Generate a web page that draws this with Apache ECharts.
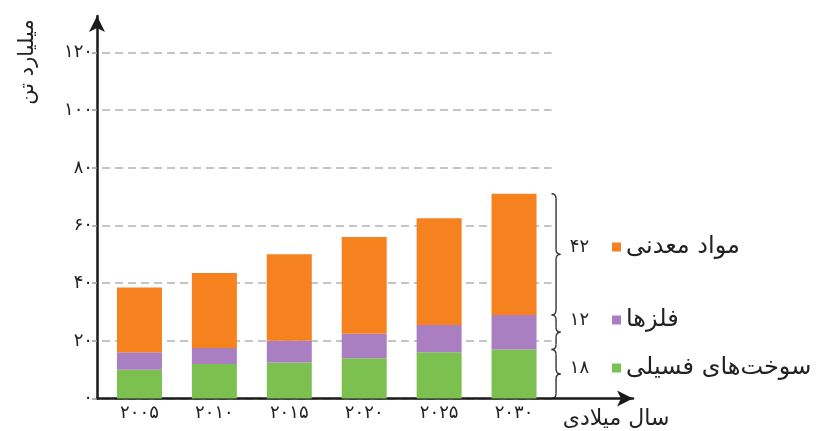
<!DOCTYPE html>
<html>
<head>
<meta charset="utf-8">
<script src="https://cdn.jsdelivr.net/npm/echarts@6/dist/echarts.min.js"></script>
<style>
html,body{margin:0;padding:0;background:#fff;}
#chart{width:827px;height:431px;}
</style>
</head>
<body>
<div id="chart"></div>
<script>
// ---- data ----
const categories = ['۲۰۰۵', '۲۰۱۰', '۲۰۱۵', '۲۰۲۰', '۲۰۲۵', '۲۰۳۰'];
const fossilFuels = [10, 12, 12.5, 14, 16, 17];
const metals = [6, 5.5, 7.5, 8.5, 9.5, 12];
const minerals = [22.5, 26, 30, 33.5, 37, 42];
const seriesNames = ['سوخت‌های فسیلی', 'فلزها', 'مواد معدنی'];
const braceLabels = ['۱۸', '۱۲', '۴۲'];
const yTickLabels = {0: '۰', 20: '۲۰', 40: '۴۰', 60: '۶۰', 80: '۸۰', 100: '۱۰۰', 120: '۱۲۰'};
const yAxisTitle = 'میلیارد تن';
const xAxisTitle = 'سال میلادی';

const colors = ['#7cc150', '#a97fc2', '#f5821f'];
const FONT = 'DejaVu Sans';

const chart = echarts.init(document.getElementById('chart'));

const option = {
  backgroundColor: '#ffffff',
  animation: false,
  grid: [
    {left: 102, right: 275.5, top: 52.5, bottom: 32.5},
    {left: 97, right: 194, top: 16, bottom: 32.5}
  ],
  xAxis: [
    {
      type: 'category', gridIndex: 0, data: categories,
      axisLine: {show: false}, axisTick: {show: false},
      axisLabel: {color: '#222', fontFamily: FONT, fontSize: 18, margin: 6}
    },
    {
      type: 'value', gridIndex: 1, min: 0, max: 1,
      axisLine: {show: true, onZero: false, lineStyle: {color: '#1a1a1a', width: 2.5},
        symbol: ['none', 'arrow'], symbolSize: [12, 16]},
      axisTick: {show: false}, axisLabel: {show: false}, splitLine: {show: false}
    }
  ],
  yAxis: [
    {
      type: 'value', gridIndex: 0, min: 0, max: 120, interval: 20, offset: 5,
      axisLine: {show: false},
      axisTick: {show: true, length: 5, lineStyle: {color: '#999', width: 1.5}},
      axisLabel: {color: '#222', fontFamily: FONT, fontSize: 18, margin: 4,
        formatter: v => yTickLabels[v] !== undefined ? yTickLabels[v] : ''},
      splitLine: {show: true, lineStyle: {color: '#b3b3b3', width: 1.5, type: [8, 5]}}
    },
    {
      type: 'value', gridIndex: 1, min: 0, max: 1,
      axisLine: {show: true, onZero: false, lineStyle: {color: '#1a1a1a', width: 2.5},
        symbol: ['none', 'arrow'], symbolSize: [12, 16]},
      axisTick: {show: false}, axisLabel: {show: false}, splitLine: {show: false}
    }
  ],
  legend: [
    {data: [seriesNames[2]], left: 612, top: 234},
    {data: [seriesNames[1]], left: 612, top: 307},
    {data: [seriesNames[0]], left: 612, top: 355}
  ].map(l => Object.assign(l, {
    orient: 'vertical', padding: 0, icon: 'rect', itemWidth: 9, itemHeight: 9,
    selectedMode: false,
    textStyle: {color: '#222', fontFamily: FONT, fontSize: 24, lineHeight: 26}
  })),
  series: [fossilFuels, metals, minerals].map((d, i) => ({
    name: seriesNames[i], type: 'bar', stack: 'total', data: d,
    xAxisIndex: 0, yAxisIndex: 0, barWidth: 45,
    itemStyle: {color: colors[i]}
  }))
};
chart.setOption(option);

// braces for last category, computed from the data through the axis scale
const last = categories.length - 1;
const cum = [0, fossilFuels[last], fossilFuels[last] + metals[last],
  fossilFuels[last] + metals[last] + minerals[last]];
const xEnd = chart.convertToPixel({xAxisIndex: 0}, categories[last]) + 22.5;
const bx = xEnd + 15;
const graphics = [];
const st = {fill: null, stroke: '#333', lineWidth: 1.4};
for (let k = 0; k < 3; k++) {
  const yb = chart.convertToPixel({yAxisIndex: 0}, cum[k]);
  const yt = chart.convertToPixel({yAxisIndex: 0}, cum[k + 1]);
  const ym = (yb + yt) / 2;
  const w = 9, h = 4.5, r = 5;
  graphics.push({type: 'bezierCurve', shape: {x1: bx, y1: yt, cpx1: bx + h, cpy1: yt, x2: bx + h, y2: yt + r}, style: st});
  graphics.push({type: 'line', shape: {x1: bx + h, y1: yt + r, x2: bx + h, y2: ym - r}, style: st});
  graphics.push({type: 'bezierCurve', shape: {x1: bx + h, y1: ym - r, cpx1: bx + h, cpy1: ym, x2: bx + w, y2: ym}, style: st});
  graphics.push({type: 'bezierCurve', shape: {x1: bx + w, y1: ym, cpx1: bx + h, cpy1: ym, x2: bx + h, y2: ym + r}, style: st});
  graphics.push({type: 'line', shape: {x1: bx + h, y1: ym + r, x2: bx + h, y2: yb - r}, style: st});
  graphics.push({type: 'bezierCurve', shape: {x1: bx + h, y1: yb - r, cpx1: bx + h, cpy1: yb, x2: bx, y2: yb}, style: st});
  const legendY = [368, 320, 247][k];
  graphics.push({type: 'text', x: bx + 28, y: legendY,
    style: {text: braceLabels[k], fill: '#222', font: `18px "${FONT}"`, textAlign: 'center', textVerticalAlign: 'middle'}});
}
graphics.push({type: 'text', x: 28, y: 62, rotation: Math.PI / 2,
  style: {text: yAxisTitle, fill: '#222', font: `21px "${FONT}"`, textAlign: 'center', textVerticalAlign: 'middle'}});
graphics.push({type: 'text', x: 616, y: 419,
  style: {text: xAxisTitle, fill: '#222', font: `22px "${FONT}"`, textAlign: 'center', textVerticalAlign: 'middle'}});
chart.setOption({graphic: graphics});
</script>
</body>
</html>
